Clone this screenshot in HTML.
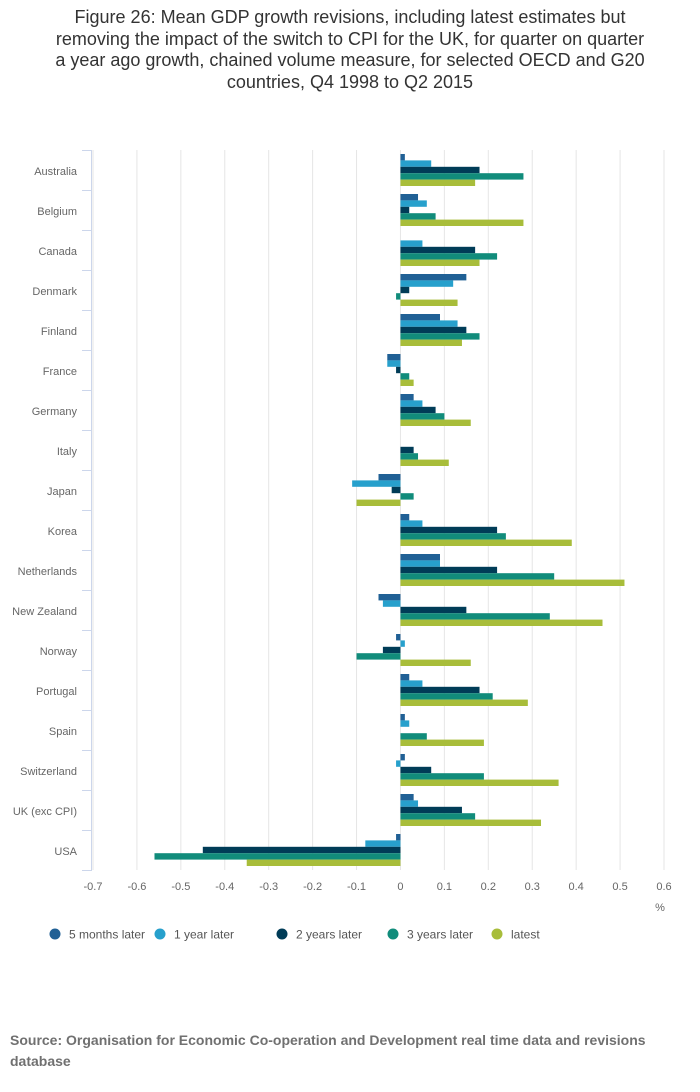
<!DOCTYPE html>
<html><head><meta charset="utf-8"><style>
body{margin:0;background:#fff;font-family:"Liberation Sans",sans-serif;}
#wrap{position:relative;width:700px;height:1092px;}
#title{position:absolute;left:0;top:7px;width:700px;text-align:center;font-size:18px;line-height:21.5px;color:#333;}
#src{position:absolute;left:10px;top:1030px;width:680px;font-size:14px;font-weight:bold;color:#707070;line-height:21px;}
</style></head><body><div id="wrap">
<div id="title">Figure 26: Mean GDP growth revisions, including latest estimates but<br>removing the impact of the switch to CPI for the UK, for quarter on quarter<br>a year ago growth, chained volume measure, for selected OECD and G20<br>countries, Q4 1998 to Q2 2015</div>
<svg id="svg" width="700" height="1092" style="position:absolute;left:0;top:0"></svg>
<div id="src">Source: Organisation for Economic Co-operation and Development real time data and revisions database</div>
</div>
<script>
const categories=["Australia","Belgium","Canada","Denmark","Finland","France","Germany","Italy","Japan","Korea","Netherlands","New Zealand","Norway","Portugal","Spain","Switzerland","UK (exc CPI)","USA"];
const seriesNames=["5 months later","1 year later","2 years later","3 years later","latest"];
const seriesColors=["#206095","#27a0cc","#003c57","#118c7b","#a8bd3a"];
const s5m=[0.01,0.04,0,0.15,0.09,-0.03,0.03,0,-0.05,0.02,0.09,-0.05,-0.01,0.02,0.01,0.01,0.03,-0.01];
const s1y=[0.07,0.06,0.05,0.12,0.13,-0.03,0.05,0,-0.11,0.05,0.09,-0.04,0.01,0.05,0.02,-0.01,0.04,-0.08];
const s2y=[0.18,0.02,0.17,0.02,0.15,-0.01,0.08,0.03,-0.02,0.22,0.22,0.15,-0.04,0.18,0,0.07,0.14,-0.45];
const s3y=[0.28,0.08,0.22,-0.01,0.18,0.02,0.10,0.04,0.03,0.24,0.35,0.34,-0.10,0.21,0.06,0.19,0.17,-0.56];
const sLatest=[0.17,0.28,0.18,0.13,0.14,0.03,0.16,0.11,-0.10,0.39,0.51,0.46,0.16,0.29,0.19,0.36,0.32,-0.35];
const xTicks=[-0.7,-0.6,-0.5,-0.4,-0.3,-0.2,-0.1,0,0.1,0.2,0.3,0.4,0.5,0.6];
const series=[s5m,s1y,s2y,s3y,sLatest];
const NS="http://www.w3.org/2000/svg",svg=document.getElementById('svg');
const x=v=>93+(v+0.7)/1.3*571, top0=150, band=40;
function el(t,a,txt){const e=document.createElementNS(NS,t);for(const k in a)e.setAttribute(k,a[k]);if(txt!==undefined)e.textContent=txt;svg.appendChild(e);return e;}
xTicks.forEach(t=>{
 const g=el('line',{x1:x(t),x2:x(t),y1:top0,y2:top0+band*categories.length,stroke:'#e6e6e6'});
 
 
 const l=el('text',{x:x(t),y:890,'text-anchor':'middle','font-size':11,fill:'#666'},(Math.round(t*10)/10).toString());
 
 
});
const u=el('text',{x:660,y:911,'text-anchor':'middle','font-size':11,fill:'#666'},'%');


const ax=el('line',{x1:91.5,x2:91.5,y1:top0,y2:top0+band*categories.length,stroke:'#ccd6eb'});


for(let i=0;i<=categories.length;i++){
 const tk=el('line',{x1:82,x2:92,y1:top0+i*band+0.5,y2:top0+i*band+0.5,stroke:'#ccd6eb'});
 
 
}
categories.forEach((c,i)=>{
 const l=el('text',{x:77,y:top0+i*band+25,'text-anchor':'end','font-size':11,fill:'#666'},c);
 
 
 series.forEach((s,j)=>{
  const v=s[i];const x0=x(0),x1=x(v);
  const r=el('rect',{x:Math.min(x0,x1),y:top0+i*band+4+j*6.4,width:Math.abs(x1-x0),height:6.4,fill:seriesColors[j]});
  
  
 });
});
const lx=[55,160,282,393,497];
seriesNames.forEach((n,j)=>{
 const c=el('circle',{cx:lx[j],cy:934,r:5.5,fill:seriesColors[j]});
 
 
 const t=el('text',{x:lx[j]+14,y:938.5,'font-size':12,fill:'#555'},n);
 
 
});
</script></body></html>
